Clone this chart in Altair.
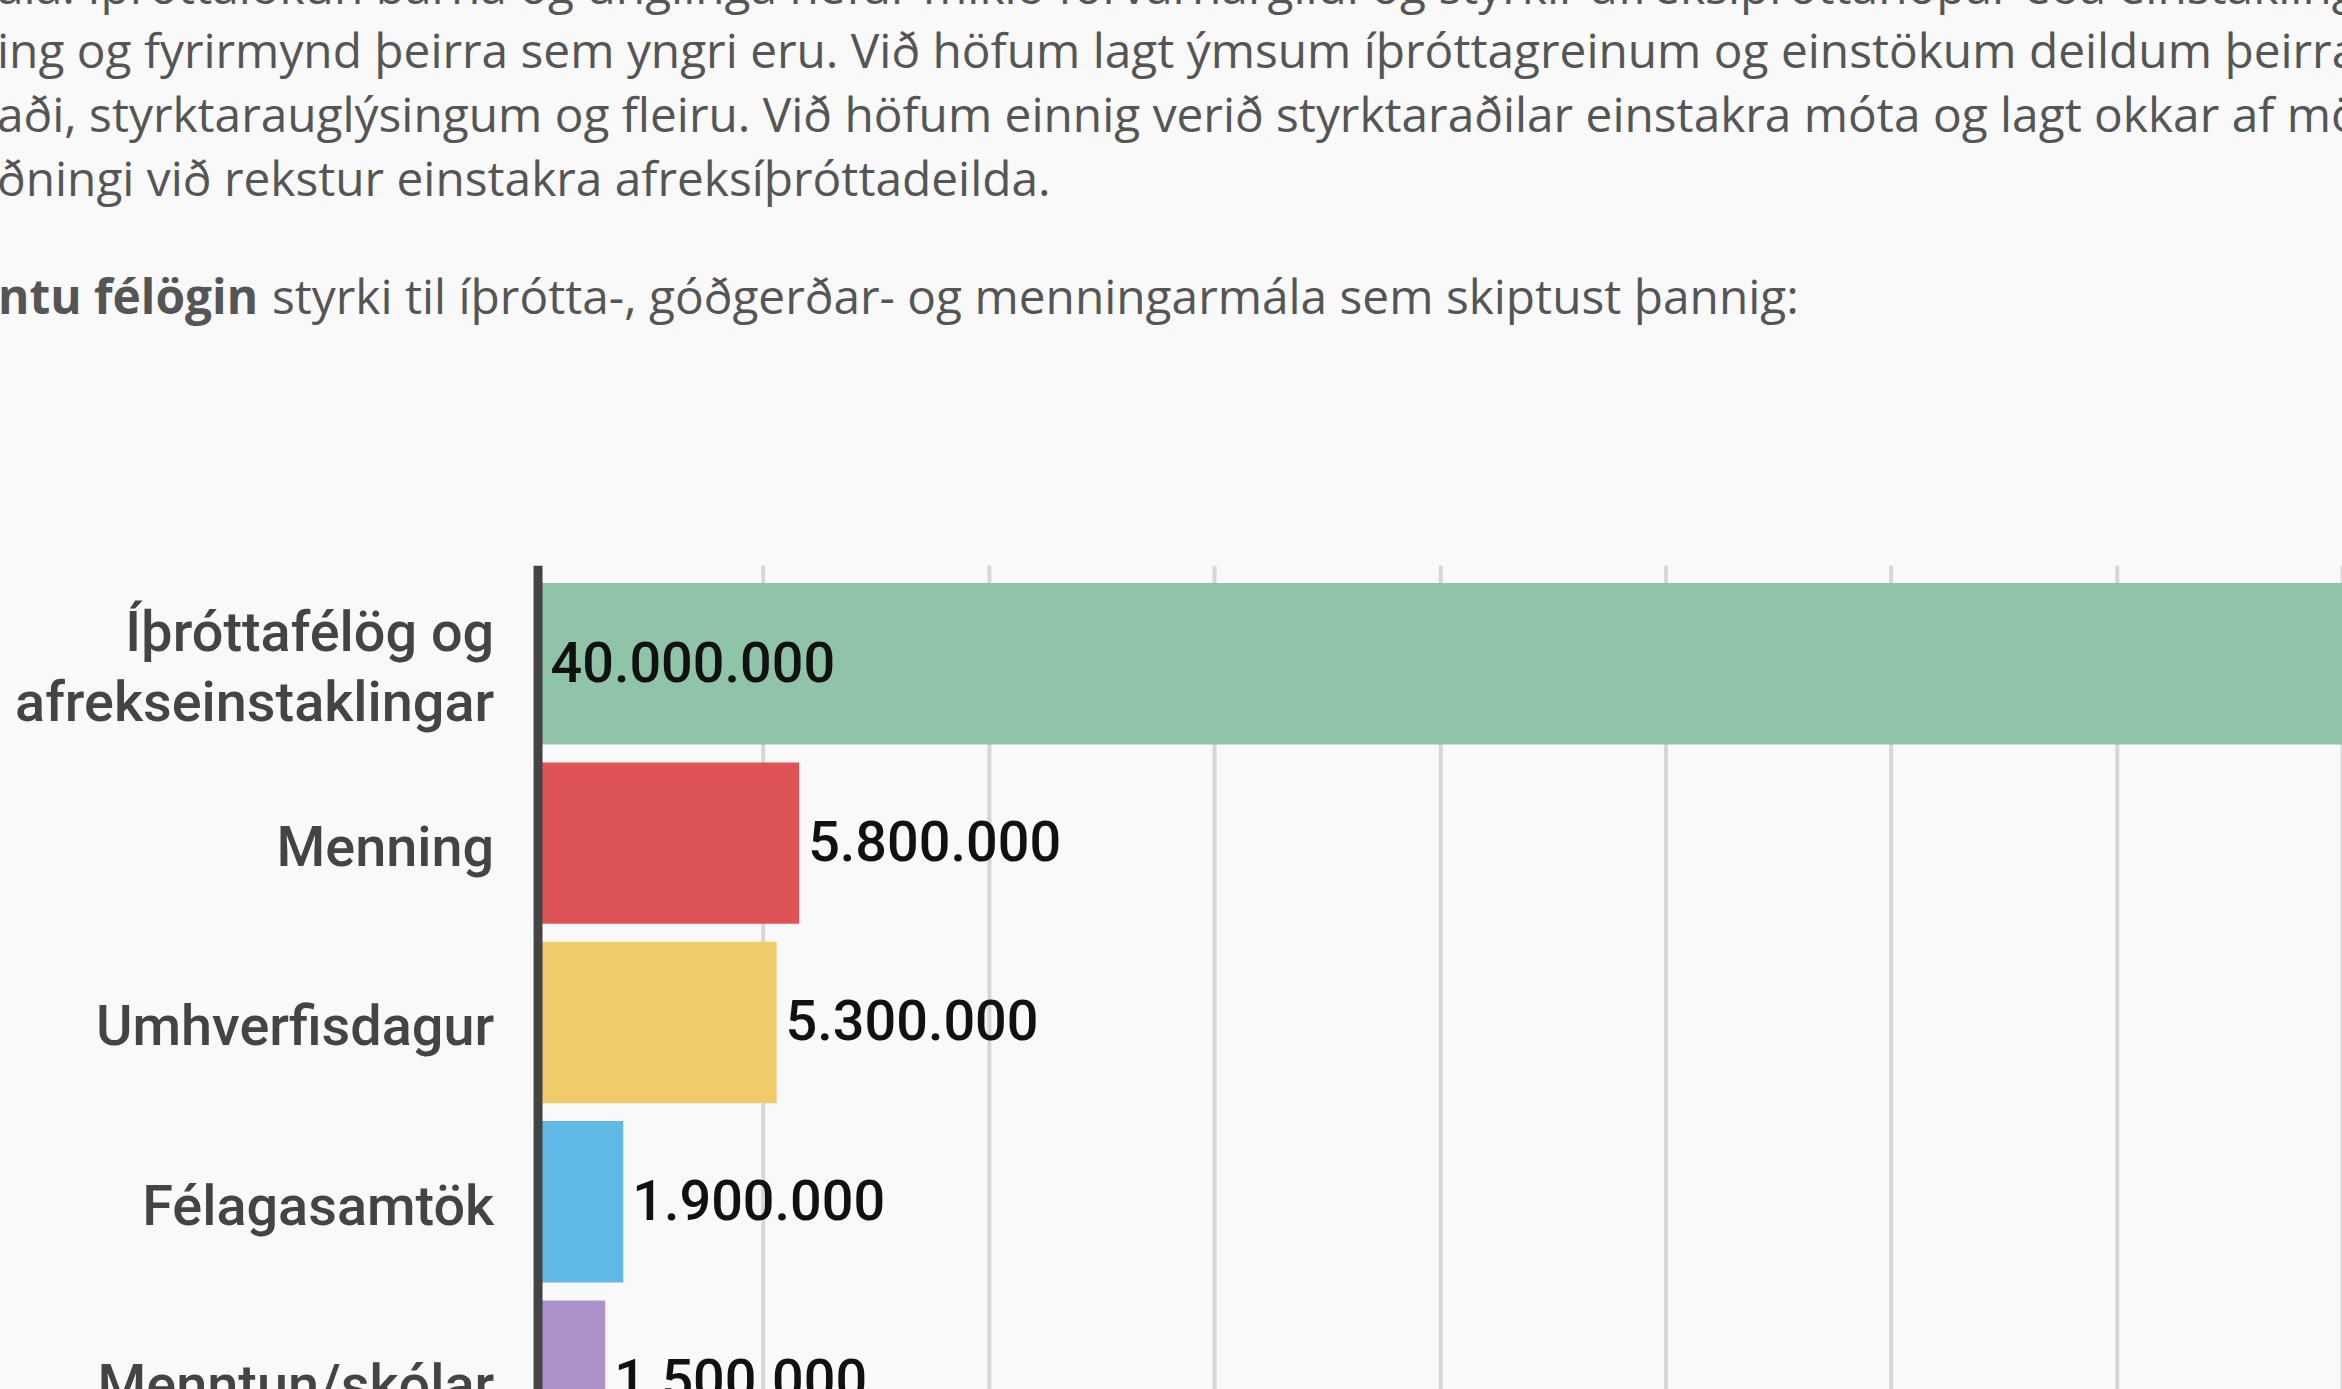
import altair as alt
import pandas as pd

categories = ["Íþróttafélög og|afrekseinstaklingar", "Menning", "Umhverfisdagur", "Félagasamtök", "Menntun/skólar"]
values = [40000000, 5800000, 5300000, 1900000, 1500000]
colors = ["#8fc4a9", "#dd5356", "#efcb6a", "#60b8e6", "#ac92c8"]
grid_values = [5000000, 10000000, 15000000, 20000000, 25000000, 30000000, 35000000, 40000000]

paragraph_lines = [
    "ála. Íþróttaiðkun barna og unglinga hefur mikið forvarnargildi og styrkir afreksíþróttahópar eða einstaklinga",
    "ing og fyrirmynd þeirra sem yngri eru. Við höfum lagt ýmsum íþróttagreinum og einstökum deildum þeirra lið",
    "aði, styrktarauglýsingum og fleiru. Við höfum einnig verið styrktaraðilar einstakra móta og lagt okkar af mörkum",
    "ðningi við rekstur einstakra afreksíþróttadeilda.",
]
bold_text = "ntu félögin"
rest_text = "styrki til íþrótta-, góðgerðar- og menningarmála sem skiptust þannig:"

df = pd.DataFrame({
    "cat": categories,
    "value": values,
    "label": [f"{v:,}".replace(",", ".") for v in values],
})

LEFT, TOP = 539.5, 564.5
W, STEP = 1811, 180

base = alt.Chart(df)

xenc = alt.X("value:Q",
             scale=alt.Scale(domain=[0, 40000000], nice=False, zero=True),
             axis=alt.Axis(values=grid_values, grid=True, labels=False, ticks=False,
                           domain=False, title=None, gridColor="#d6d6d6", gridWidth=4, zindex=0))
yenc = alt.Y("cat:N", sort=categories,
             scale=alt.Scale(paddingInner=0.1, paddingOuter=0.1),
             axis=alt.Axis(title=None, ticks=False, labelExpr="split(datum.label, '|')",
                           labelFont="Roboto", labelFontWeight=500, labelFontSize=56,
                           labelColor="#444444", labelLineHeight=70, labelLimit=800,
                           labelOffset={"condition": {"test": "indexof(datum.value, '|') >= 0", "value": -30},
                                        "value": 6},
                           labelPadding=44, domainColor="#444444", domainWidth=9, zindex=1))

bars = base.mark_bar().encode(
    x=xenc, y=yenc,
    color=alt.Color("cat:N", scale=alt.Scale(domain=categories, range=colors), legend=None),
)

txt_style = dict(font="Roboto", fontWeight=500, fontSize=56, color="#111111", baseline="middle", align="left", dy=1)
outside = base.transform_filter(alt.datum.value < 20000000).mark_text(dx=9, **txt_style).encode(
    x="value:Q", y=alt.Y("cat:N", sort=categories), text="label:N")
inside = base.transform_filter(alt.datum.value >= 20000000).mark_text(dx=13, **txt_style).encode(
    x=alt.datum(0), y=alt.Y("cat:N", sort=categories), text="label:N")

para_style = dict(font="Open Sans", fontSize=48, color="#555555", baseline="middle", align="left")
one = alt.Data(values=[{"k": 0}])
layers = [bars, outside, inside]
centers = [-13, 52, 116, 180]
for line, c in zip(paragraph_lines, centers):
    layers.append(alt.Chart(one).mark_text(text=line, **para_style).encode(
        x=alt.value(-LEFT - 3), y=alt.value(c - TOP)))
layers.append(alt.Chart(one).mark_text(text=bold_text, font="Open Sans", fontSize=48, fontWeight="bold",
                                       color="#555555", baseline="middle", align="right").encode(
    x=alt.value(-LEFT + 259), y=alt.value(298 - TOP)))
layers.append(alt.Chart(one).mark_text(text=rest_text, **para_style).encode(
    x=alt.value(-LEFT + 273), y=alt.value(298 - TOP)))

chart = alt.layer(*layers).properties(
    width=W, height=alt.Step(STEP),
    autosize=alt.AutoSizeParams(type="none"),
    padding={"left": LEFT, "top": TOP, "right": 0, "bottom": 0},
    background="#f9f9f9",
).configure_view(stroke=None)

chart.save("out.html", embed_options={"renderer": "svg", "actions": False})
